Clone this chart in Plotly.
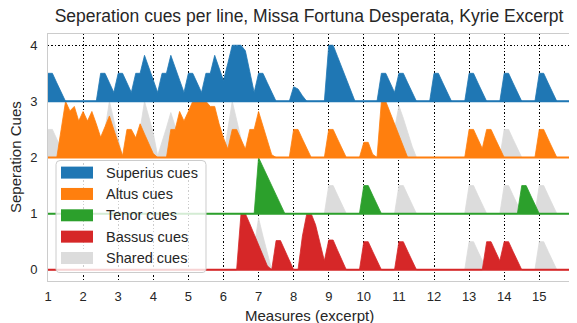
import numpy as np
import plotly.graph_objects as go

# Measure positions: eighth-of-a-measure steps from measure 1 to end of measure 15
measure_start = 1
measure_end = 16
steps_per_measure = 8
xs = np.arange(measure_start, measure_end, 1 / steps_per_measure)

tick_labels = [str(i) for i in range(1, 16)]
voices = ["Superius", "Altus", "Tenor", "Bassus"]
offsets = [3, 2, 1, 0]
colors = ["#1f77b4", "#ff7f0e", "#2ca02c", "#d62728"]
shared_color = "#dcdcdc"
legend_labels = ["Superius cues", "Altus cues", "Tenor cues", "Bassus cues", "Shared cues"]
legend_colors = colors + [shared_color]

Z = [0, 0, 0, 0, 0, 0, 0, 0]

superius = (
    [0.5, 0.5, 0.33, 0.17, 0, 0, 0, 0]
    + [0, 0, 0, 0, 0.5, 0.5, 0.33, 0.16]
    + [0.5, 0.5, 0.33, 0.16, 0.5, 0.5, 0.82, 0.6]
    + [0.38, 0.16, 0.5, 0.5, 0.82, 0.6, 0.38, 0.16]
    + [0.5, 0.5, 0.33, 0.16, 0.5, 0.5, 0.82, 0.6]
    + [0.37, 0.68, 1.0, 1.0, 1.0, 0.9, 0.5, 0.16]
    + [0.5, 0.5, 0.33, 0.17, 0, 0, 0, 0]
    + [0.26, 0.22, 0.1, 0, 0, 0, 0, 0]
    + [1.0, 1.0, 0.8, 0.6, 0.4, 0.2, 0, 0]
    + [0, 0, 0, 0, 0.5, 0.5, 0.33, 0.16]
    + [0.5, 0.5, 0.33, 0.17, 0, 0, 0, 0]
    + [0.5, 0.5, 0.33, 0.17, 0, 0, 0, 0]
    + [0.5, 0.5, 0.33, 0.17, 0, 0, 0, 0]
    + [0.5, 0.5, 0.33, 0.17, 0, 0, 0, 0]
    + [0.5, 0.5, 0.33, 0.17, 0, 0, 0, 0]
)
superius_shared = Z * 15

altus = (
    [0, 0, 0, 0.5, 1.0, 0.83, 0.91, 0.65]
    + [0.82, 0.65, 0.82, 0.6, 0.36, 0.55, 0.74, 0.5]
    + [0.25, 0.03, 0.5, 0.5, 0.35, 0.6, 0.42, 0.25]
    + [0.07, 0, 0, 0, 0.5, 0.5, 0.82, 0.65]
    + [0.82, 1.0, 1.0, 1.0, 1.0, 0.91, 0.91, 0.6]
    + [0.35, 0.15, 0.5, 0.5, 0.33, 0.15, 0.5, 0.5]
    + [0.82, 0.56, 0.31, 0.05, 0, 0, 0, 0]
    + [0.5, 0.5, 0.33, 0.17, 0, 0, 0, 0]
    + [0.5, 0.5, 0.33, 0.17, 0, 0, 0, 0]
    + [0.27, 0.27, 0.06, 0, 1.0, 1.0, 0.8, 0.6]
    + [0.4, 0.2, 0, 0, 0, 0, 0, 0]
    + [0, 0, 0, 0, 0, 0, 0, 0]
    + [0.5, 0.5, 0.33, 0.16, 0.5, 0.5, 0.33, 0.17]
    + [0, 0, 0, 0, 0, 0, 0, 0]
    + [0.5, 0.5, 0.33, 0.17, 0, 0, 0, 0]
)
altus_shared = (
    [0.5, 0.5, 0.33, 0.17, 0, 0, 0, 0]
    + [0, 0, 0, 0, 0, 0.5, 1.0, 0.67]
    + [0.33, 0, 0, 0, 0, 0.5, 1.0, 0.72]
    + [0.43, 0.03, 0.27, 0.53, 0.8, 0.55, 0.3, 0]
    + [0, 0, 0, 0, 0, 0, 0, 0]
    + [0, 0.5, 1.0, 0.67, 0.33, 0, 0, 0]
    + [0, 0, 0, 0, 0, 0, 0, 0]
    + [0, 0, 0, 0, 0, 0, 0, 0]
    + [0, 0, 0, 0, 0, 0, 0, 0]
    + [0, 0, 0, 0, 0, 0, 0, 0.5]
    + [0.92, 0.7, 0.45, 0.2, 0, 0, 0, 0]
    + [0, 0, 0, 0, 0, 0, 0, 0]
    + [0, 0, 0, 0, 0, 0, 0, 0]
    + [0.5, 0.5, 0.33, 0.17, 0, 0, 0, 0]
    + [0, 0, 0, 0, 0, 0, 0, 0]
)

tenor = (
    [0, 0, 0, 0, 0, 0, 0, 0] * 6
    + [1.0, 0.83, 0.67, 0.5, 0.33, 0.17, 0, 0]
    + [0, 0, 0, 0, 0, 0, 0, 0] * 2
    + [0.5, 0.5, 0.33, 0.17, 0, 0, 0, 0]
    + [0, 0, 0, 0, 0, 0, 0, 0] * 3
    + [0, 0, 0, 0, 0.5, 0.5, 0.33, 0.17]
    + [0, 0, 0, 0, 0, 0, 0, 0]
)
tenor_shared = (
    [0, 0, 0, 0, 0, 0, 0, 0] * 8
    + [0.5, 0.5, 0.33, 0.17, 0, 0, 0, 0]
    + [0, 0, 0, 0, 0, 0, 0, 0]
    + [0.5, 0.5, 0.33, 0.17, 0, 0, 0, 0]
    + [0, 0, 0, 0, 0, 0, 0, 0]
    + [0.5, 0.5, 0.33, 0.17, 0, 0, 0, 0]
    + [0.5, 0.5, 0.33, 0.17, 0, 0, 0, 0]
    + [0.5, 0.5, 0.33, 0.17, 0, 0, 0, 0]
)

bassus = (
    [0, 0, 0, 0, 0, 0, 0, 0] * 5
    + [0, 0, 0, 0, 1.0, 1.0, 0.82, 0.63]
    + [0.44, 0.26, 0.07, 0, 0.52, 0.52, 0.35, 0.17]
    + [0, 0, 0.6, 1.0, 1.0, 0.8, 0.45, 0.16]
    + [0.53, 0.53, 0.35, 0.17, 0, 0, 0, 0]
    + [0.5, 0.5, 0.33, 0.17, 0, 0, 0, 0]
    + [0.5, 0.5, 0.33, 0.17, 0, 0, 0, 0]
    + [0, 0, 0, 0, 0, 0, 0, 0]
    + [0, 0, 0, 0, 0.5, 0.5, 0.33, 0.16]
    + [0.5, 0.5, 0.33, 0.17, 0, 0, 0, 0]
    + [0, 0, 0, 0, 0, 0, 0, 0]
)
bassus_shared = (
    [0, 0, 0, 0, 0, 0, 0, 0] * 5
    + [0, 0, 0, 0, 0, 0, 0, 0.4]
    + [0.92, 0.6, 0.3, 0, 0, 0, 0, 0]
    + [0, 0, 0, 0, 0, 0, 0, 0] * 5
    + [0.5, 0.5, 0.33, 0.17, 0, 0, 0, 0]
    + [0, 0, 0, 0, 0, 0, 0, 0]
    + [0.5, 0.5, 0.33, 0.17, 0, 0, 0, 0]
)

cues = [superius, altus, tenor, bassus]
shared = [superius_shared, altus_shared, tenor_shared, bassus_shared]

# ---- layout geometry (window pixels; the page body adds an 8px margin) ----
WIN_W, WIN_H = 577, 323
BODY = 8
W, H = WIN_W - BODY, WIN_H - BODY
PLOT_L, PLOT_R, PLOT_T, PLOT_B = 48, 570, 34, 281  # plot area in window pixels
ML, MR, MT, MB = PLOT_L - BODY, WIN_W - PLOT_R, PLOT_T - BODY, WIN_H - PLOT_B
PW, PH = PLOT_R - PLOT_L, PLOT_B - PLOT_T


def px_x(px):
    return (px - PLOT_L) / PW


def px_y(py):
    return (PLOT_B - py) / PH


fig = go.Figure()


def add_area(vals, base, color, name):
    y = np.asarray(vals, dtype=float) + base
    fig.add_trace(go.Scatter(x=xs, y=np.full(len(xs), base, dtype=float),
                             mode="lines", line=dict(width=0, color=color),
                             showlegend=False, hoverinfo="skip"))
    fig.add_trace(go.Scatter(x=xs, y=y, mode="lines", fill="tonexty",
                             fillcolor=color, line=dict(width=0.8, color=color),
                             name=name, showlegend=False))


# shared cues first (behind)
for vals, base in zip(shared, offsets):
    add_area(vals, base, shared_color, "Shared cues")

for vals, base, color, voice in zip(cues, offsets, colors, voices):
    add_area(vals, base, color, f"{voice} cues")

# baselines
for base, color in zip(offsets, colors):
    fig.add_trace(go.Scatter(x=[xs[0], xs[-1]], y=[base, base], mode="lines",
                             line=dict(width=2, color=color), showlegend=False,
                             hoverinfo="skip"))

font_family = "Liberation Sans, Arial, sans-serif"
text_color = "#262626"

shapes = []
annotations = []

# legend box (rounded)
bx0, bx1, by0, by1, r = 56, 206, 160.5, 272.5, 4
path = (f"M {bx0 + r},{by0} L {bx1 - r},{by0} Q {bx1},{by0} {bx1},{by0 + r} "
        f"L {bx1},{by1 - r} Q {bx1},{by1} {bx1 - r},{by1} L {bx0 + r},{by1} "
        f"Q {bx0},{by1} {bx0},{by1 - r} L {bx0},{by0 + r} Q {bx0},{by0} {bx0 + r},{by0} Z")


def conv_path(p):
    out = []
    for t in p.split():
        if "," in t:
            a, b = t.split(",")
            out.append(f"{px_x(float(a)):.5f},{px_y(float(b)):.5f}")
        else:
            out.append(t)
    return " ".join(out)


shapes.append(dict(type="path", xref="paper", yref="paper", path=conv_path(path),
                   fillcolor="rgba(255,255,255,0.8)", line=dict(color="#cccccc", width=1),
                   layer="above"))

row0, row_gap = 172.6, 21.35
for i, (lab, col) in enumerate(zip(legend_labels, legend_colors)):
    cy = row0 + i * row_gap
    shapes.append(dict(type="rect", xref="paper", yref="paper",
                       x0=px_x(61), x1=px_x(93), y0=px_y(cy + 6), y1=px_y(cy - 6),
                       fillcolor=col, line=dict(width=0), layer="above"))
    annotations.append(dict(x=px_x(104), y=px_y(cy), xref="paper", yref="paper",
                            text=lab, showarrow=False, xanchor="left", yanchor="middle",
                            font=dict(size=14.5, color=text_color)))

# axis titles
annotations.append(dict(x=px_x(309), y=px_y(315), xref="paper", yref="paper",
                        text="Measures (excerpt)", showarrow=False,
                        xanchor="center", yanchor="middle",
                        font=dict(size=15, color=text_color)))
annotations.append(dict(x=px_x(15), y=px_y(157), xref="paper", yref="paper",
                        text="Seperation Cues", showarrow=False, textangle=-90,
                        xanchor="center", yanchor="middle", borderpad=0,
                        font=dict(size=15, color=text_color)))

fig.update_layout(
    width=W, height=H,
    margin=dict(l=ML, r=MR, t=MT, b=MB, autoexpand=False),
    paper_bgcolor="white", plot_bgcolor="white",
    font=dict(family=font_family, size=13, color=text_color),
    title=dict(text="Seperation cues per line, Missa Fortuna Desperata, Kyrie Excerpt",
               x=0.5, xanchor="center", xref="paper",
               y=1 - (15.5 - BODY) / H, yref="container", yanchor="middle",
               font=dict(size=17.5, color=text_color)),
    showlegend=False,
    shapes=shapes,
    annotations=annotations,
)

grid_dash = "1.3px,2.1px"
fig.update_xaxes(
    range=[1, 15.875], tickmode="array",
    tickvals=list(range(1, 16)), ticktext=tick_labels,
    showgrid=True, gridcolor="black", griddash=grid_dash, gridwidth=1.3,
    showline=True, linecolor="#cccccc", linewidth=1, mirror=True,
    zeroline=False, ticks="outside", ticklen=3, tickcolor="rgba(0,0,0,0)",
    tickfont=dict(size=13), automargin=False,
)
fig.update_yaxes(
    range=[-0.2, 4.2], tickmode="array", tickvals=[0, 1, 2, 3, 4],
    showgrid=True, gridcolor="black", griddash=grid_dash, gridwidth=1.3,
    showline=True, linecolor="#cccccc", linewidth=1, mirror=True,
    zeroline=False, ticks="outside", ticklen=7, tickcolor="rgba(0,0,0,0)",
    tickfont=dict(size=13), automargin=False,
)

fig.write_html("out.html")
